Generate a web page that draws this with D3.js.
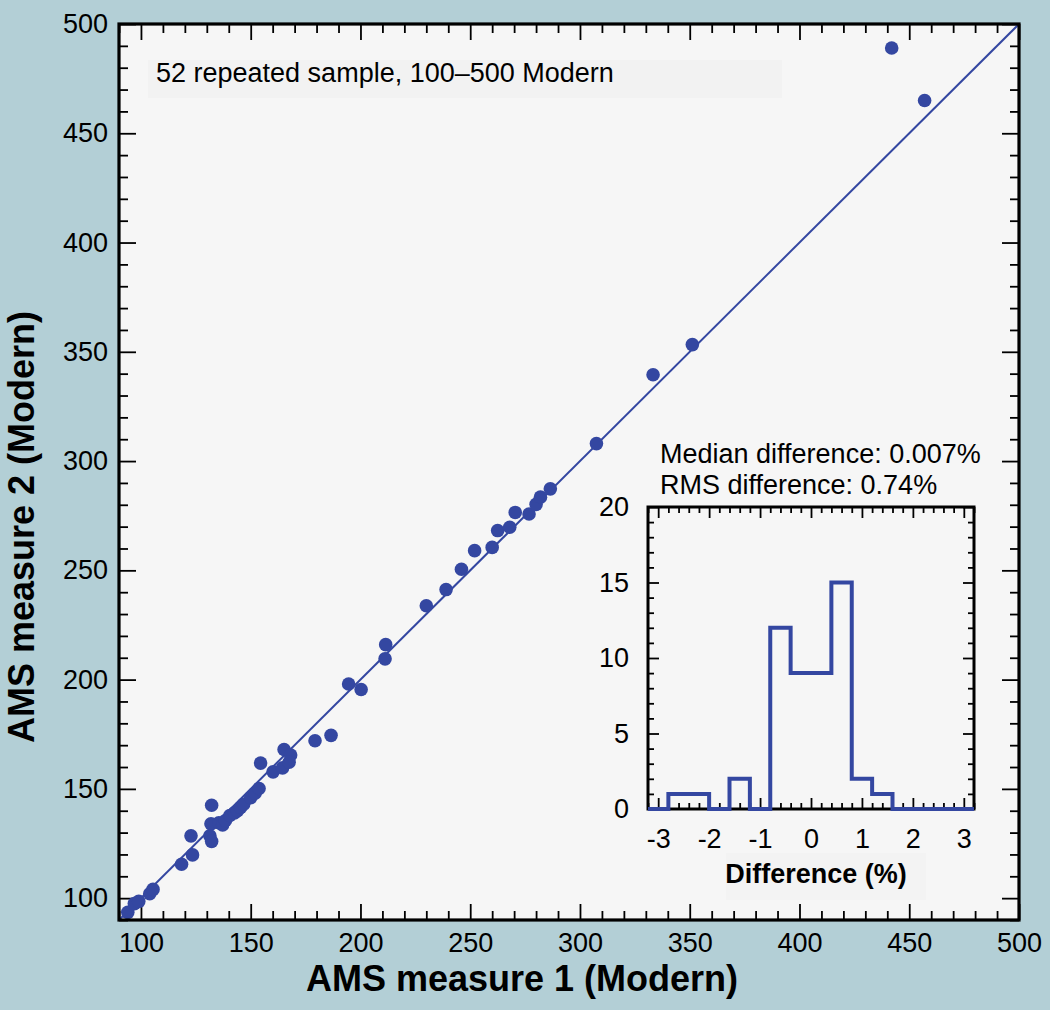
<!DOCTYPE html>
<html>
<head>
<meta charset="utf-8">
<script src="https://cdn.jsdelivr.net/npm/d3@7"></script>
<style>
  html, body { margin: 0; padding: 0; background: #b3cfd6; }
  svg { display: block; }
  text { font-family: "Liberation Sans", Arial, Helvetica, sans-serif; fill: #000; }
  .axis path.domain { display: none; }
  .axis line { stroke: #000; stroke-width: 1.8; }
</style>
</head>
<body>
<svg id="svg" width="1050" height="1010"></svg>
<script>
"use strict";

// AMS measure 1 / measure 2 (Modern)
const measure1 = [94, 97, 99, 104, 105.5, 118.5, 123.5, 122.8, 132.2, 131.9, 131.4, 132.2,
  135.5, 137.2, 138.5, 140.5, 142.6, 144, 145.4, 146.8, 150, 152, 153.8, 154.5, 160.2, 164.5,
  165.2, 168.2, 167.5, 179.3, 186.6, 194.6, 200.3, 211.5, 211.2, 230, 239, 246, 252, 260,
  262.5, 268, 270.5, 276.8, 280, 282, 286.5, 307.5, 333.3, 351.2, 442, 457];
const measure2 = [93.5, 97.5, 98.5, 102, 104, 115.5, 119.8, 128.5, 142.5, 134, 128.5, 126,
  134.5, 133.5, 135.5, 137.8, 139, 140, 141.5, 143, 146, 148, 150.2, 161.8, 157.8, 159.6,
  168, 165.5, 162.2, 172, 174.5, 198, 195.5, 216, 209.5, 233.8, 241.2, 250.5, 259, 260.5,
  268.2, 269.7, 276.5, 275.8, 280.2, 283.5, 287.3, 308, 339.5, 353.3, 489, 465];

const mainTicks = [100, 150, 200, 250, 300, 350, 400, 450, 500];

// histogram of differences (%)
const binEdges = [-3.2, -2.8, -2.4, -2.0, -1.6, -1.2, -0.8, -0.4, 0, 0.4, 0.8, 1.2, 1.6, 2.0, 2.4, 2.8, 3.2];
const binCounts = [0, 1, 1, 0, 2, 0, 12, 9, 9, 15, 2, 1, 0, 0, 0, 0];
const histXTicks = [-3, -2, -1, 0, 1, 2, 3];
const histYTicks = [0, 5, 10, 15, 20];

const blue = "#3447a1";
const svg = d3.select("#svg");

// main plot
const pLeft = 119, pRight = 1019, pTop = 24, pBottom = 920;
const x = d3.scaleLinear().domain([90, 500]).range([pLeft, pRight]);
const y = d3.scaleLinear().domain([90, 500]).range([pBottom, pTop]);

svg.append("rect")
  .attr("x", pLeft).attr("y", pTop)
  .attr("width", pRight - pLeft).attr("height", pBottom - pTop)
  .attr("fill", "#f6f6f6");

// faint box behind the annotation
svg.append("rect").attr("x", 148).attr("y", 60).attr("width", 634).attr("height", 38).attr("fill", "#f2f2f2");

const minor10 = d3.range(90, 501, 10).filter(v => v % 50 !== 0);

function ticksOn(g, axisFn, scale, values, size) {
  g.append("g").attr("class", "axis")
    .call(axisFn(scale).tickValues(values).tickSize(-size).tickFormat(""));
}

const gx = svg.append("g").attr("transform", `translate(0,${pBottom})`);
gx.append("g").attr("class", "axis")
  .call(d3.axisBottom(x).tickValues(mainTicks).tickSize(-16).tickPadding(13))
  .selectAll("text").style("font-size", "27px");
ticksOn(gx, d3.axisBottom, x, minor10, 9);

const gxt = svg.append("g").attr("transform", `translate(0,${pTop})`);
ticksOn(gxt, d3.axisTop, x, mainTicks, 16);
ticksOn(gxt, d3.axisTop, x, minor10, 9);

const gy = svg.append("g").attr("transform", `translate(${pLeft},0)`);
gy.append("g").attr("class", "axis")
  .call(d3.axisLeft(y).tickValues(mainTicks).tickSize(-17).tickPadding(11))
  .selectAll("text").style("font-size", "27px");
ticksOn(gy, d3.axisLeft, y, minor10, 9);

const gyr = svg.append("g").attr("transform", `translate(${pRight},0)`);
ticksOn(gyr, d3.axisRight, y, mainTicks, 17);
ticksOn(gyr, d3.axisRight, y, minor10, 9);

// 1:1 line
svg.append("line")
  .attr("x1", x(90)).attr("y1", y(90))
  .attr("x2", x(500)).attr("y2", y(500))
  .attr("stroke", blue).attr("stroke-width", 2);

svg.append("g").selectAll("circle")
  .data(measure1)
  .enter()
  .append("circle")
  .attr("cx", d => x(d))
  .attr("cy", (d, i) => y(measure2[i]))
  .attr("r", 6.8)
  .attr("fill", blue);

svg.append("rect")
  .attr("x", pLeft).attr("y", pTop)
  .attr("width", pRight - pLeft).attr("height", pBottom - pTop)
  .attr("fill", "none").attr("stroke", "#000").attr("stroke-width", 3.2);

svg.append("text")
  .attr("x", 156).attr("y", 82)
  .style("font-size", "27px")
  .text("52 repeated sample, 100\u2013500 Modern");

svg.append("text")
  .attr("x", 522).attr("y", 991)
  .attr("text-anchor", "middle")
  .style("font-size", "36px").style("font-weight", "bold")
  .text("AMS measure 1 (Modern)");

svg.append("text")
  .attr("transform", "translate(34,527) rotate(-90)")
  .attr("text-anchor", "middle")
  .style("font-size", "36px").style("font-weight", "bold")
  .text("AMS measure 2 (Modern)");

// inset histogram
const hl = 648, hr = 974, ht = 507, hb = 809;
const hx = d3.scaleLinear().domain([-3.2, 3.2]).range([hl, hr]);
const hy = d3.scaleLinear().domain([0, 20]).range([hb, ht]);

svg.append("rect").attr("x", 726).attr("y", 853).attr("width", 200).attr("height", 47).attr("fill", "#f3f3f3");

svg.append("text").attr("x", 660).attr("y", 463).style("font-size", "27px")
  .text("Median difference: 0.007%");
svg.append("text").attr("x", 660).attr("y", 494).style("font-size", "27px")
  .text("RMS difference: 0.74%");

const hMinorX = d3.range(-16, 17).map(v => v / 5).filter(v => Math.abs(v - Math.round(v)) > 1e-6);
const hMinorY = d3.range(0, 21).filter(v => v % 5 !== 0);

const hgx = svg.append("g").attr("transform", `translate(0,${hb})`);
hgx.append("g").attr("class", "axis")
  .call(d3.axisBottom(hx).tickValues(histXTicks).tickSize(-11).tickPadding(20).tickFormat(d => String(d)))
  .selectAll("text").style("font-size", "27px");
ticksOn(hgx, d3.axisBottom, hx, hMinorX, 6);

const hgxt = svg.append("g").attr("transform", `translate(0,${ht})`);
ticksOn(hgxt, d3.axisTop, hx, histXTicks, 11);
ticksOn(hgxt, d3.axisTop, hx, hMinorX, 6);

const hgy = svg.append("g").attr("transform", `translate(${hl},0)`);
hgy.append("g").attr("class", "axis")
  .call(d3.axisLeft(hy).tickValues(histYTicks).tickSize(-11).tickPadding(19))
  .selectAll("text").style("font-size", "27px");
ticksOn(hgy, d3.axisLeft, hy, hMinorY, 6);

const hgyr = svg.append("g").attr("transform", `translate(${hr},0)`);
ticksOn(hgyr, d3.axisRight, hy, histYTicks, 11);
ticksOn(hgyr, d3.axisRight, hy, hMinorY, 6);

svg.append("rect")
  .attr("x", hl).attr("y", ht)
  .attr("width", hr - hl).attr("height", hb - ht)
  .attr("fill", "none").attr("stroke", "#000").attr("stroke-width", 3);

const stepPts = binCounts.map((c, i) => [binEdges[i], c]);
stepPts.push([binEdges[binEdges.length - 1], binCounts[binCounts.length - 1]]);

svg.append("path")
  .datum(stepPts)
  .attr("d", d3.line().x(d => hx(d[0])).y(d => hy(d[1])).curve(d3.curveStepAfter))
  .attr("fill", "none")
  .attr("stroke", blue)
  .attr("stroke-width", 4);

svg.append("text")
  .attr("x", 816).attr("y", 883)
  .attr("text-anchor", "middle")
  .style("font-size", "27px").style("font-weight", "bold")
  .text("Difference (%)");
</script>
</body>
</html>
